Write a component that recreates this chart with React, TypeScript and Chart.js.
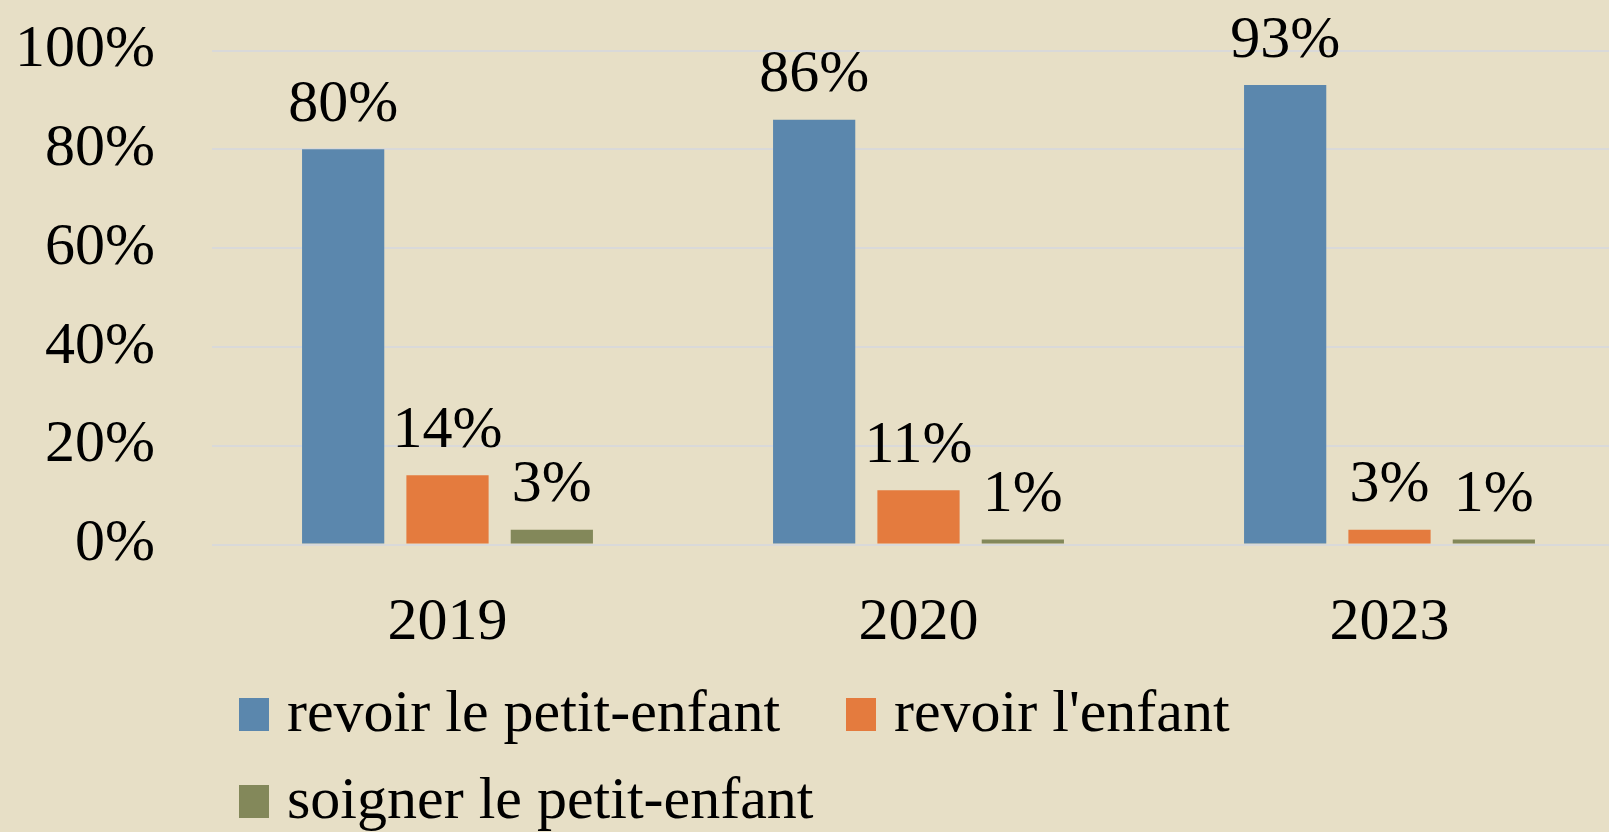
import React, { useEffect, useRef } from "react";
import { Chart, registerables } from "chart.js";

Chart.register(...registerables);

const categories = ["2019", "2020", "2023"];
const seriesNames = ["revoir le petit-enfant", "revoir l'enfant", "soigner le petit-enfant"];
const revoirPetitEnfant = [80, 86, 93];
const revoirEnfant = [14, 11, 3];
const soignerPetitEnfant = [3, 1, 1];
const yTicks = [0, 20, 40, 60, 80, 100];

const colors = ["#5B87AD", "#E47B3E", "#83885A"];
const BG = "#E7DFC6";
const FONT = "'Liberation Serif', 'DejaVu Serif', serif";

const valueLabels = {
  id: "valueLabels",
  afterDatasetsDraw(chart: any) {
    const ctx = chart.ctx;
    ctx.save();
    ctx.font = `60px ${FONT}`;
    ctx.fillStyle = "#000";
    ctx.textAlign = "center";
    ctx.textBaseline = "alphabetic";
    chart.data.datasets.forEach((ds: any, i: number) => {
      const meta = chart.getDatasetMeta(i);
      meta.data.forEach((el: any, j: number) => {
        ctx.fillText(`${ds.data[j]}%`, el.x, el.y - 28.5);
      });
    });
    ctx.restore();
  },
};

const customLegend = {
  id: "customLegend",
  afterDraw(chart: any) {
    const ctx = chart.ctx;
    ctx.save();
    ctx.font = `60px ${FONT}`;
    ctx.textAlign = "left";
    ctx.textBaseline = "alphabetic";
    const spots = [
      { x: 239, y: 698 },
      { x: 846, y: 698 },
      { x: 239, y: 785 },
    ];
    chart.data.datasets.forEach((ds: any, i: number) => {
      const s = spots[i];
      ctx.fillStyle = ds.backgroundColor;
      ctx.fillRect(s.x, s.y, 30, 33);
      ctx.fillStyle = "#000";
      ctx.fillText(ds.label, s.x + 48, s.y + 33);
    });
    ctx.restore();
  },
};

const bgPlugin = {
  id: "bgFill",
  beforeDraw(chart: any) {
    const ctx = chart.ctx;
    ctx.save();
    ctx.fillStyle = BG;
    ctx.fillRect(0, 0, chart.width, chart.height);
    ctx.restore();
  },
};

export default function App() {
  const ref = useRef<HTMLCanvasElement | null>(null);
  useEffect(() => {
    document.body.style.margin = "0";
    document.body.style.background = BG;
    if (!ref.current) return;
    const values = [revoirPetitEnfant, revoirEnfant, soignerPetitEnfant];
    const chart = new Chart(ref.current, {
      type: "bar",
      data: {
        labels: categories,
        datasets: values.map((d, i) => ({
          label: seriesNames[i],
          data: d,
          backgroundColor: colors[i],
          borderWidth: 0,
          categoryPercentage: 0.6646,
          barPercentage: 0.788,
        })),
      },
      options: {
        animation: false,
        responsive: false,
        devicePixelRatio: 1,
        layout: { padding: { top: 50.5, right: 0, bottom: 0, left: 0 } },
        plugins: {
          legend: { display: false },
          tooltip: { enabled: false },
        },
        scales: {
          x: {
            grid: { display: false, drawTicks: false },
            border: { display: false },
            ticks: {
              color: "#000",
              font: { family: FONT, size: 60 },
              padding: 42.5,
            },
            afterFit: (s: any) => {
              s.height = 832 - 544.5;
              s.paddingLeft = 0;
              s.paddingRight = 0;
            },
          },
          y: {
            min: 0,
            max: 100,
            afterBuildTicks: (s: any) => {
              s.ticks = yTicks.map((v) => ({ value: v }));
            },
            grid: { color: "#D9D9D9", lineWidth: 2, drawTicks: false },
            border: { display: false },
            ticks: {
              color: "#000",
              font: { family: FONT, size: 60 },
              padding: 57,
              callback: (v: any) => `${v}%`,
            },
            afterFit: (s: any) => {
              s.width = 212;
              s.paddingTop = 0;
              s.paddingBottom = 0;
            },
          },
        },
      },
      plugins: [bgPlugin, valueLabels, customLegend],
    });
    return () => chart.destroy();
  }, []);
  return (
    <div style={{ width: 1609, height: 832, overflow: "hidden", position: "relative", background: BG }}>
      <canvas ref={ref} width={1625} height={832} style={{ display: "block", width: 1625, height: 832 }} />
    </div>
  );
}
